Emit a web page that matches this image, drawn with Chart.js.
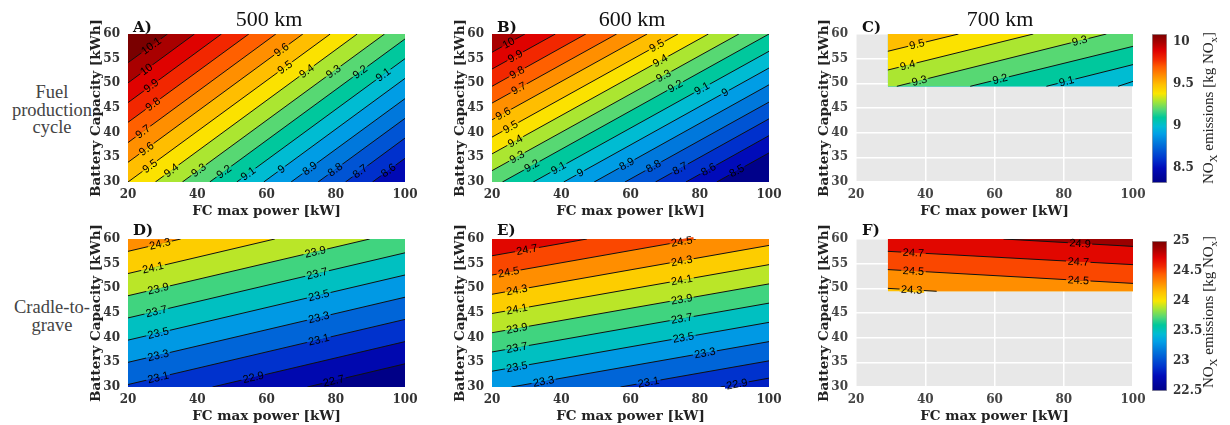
<!DOCTYPE html>
<html>
<head>
<meta charset="utf-8">
<script src="https://cdn.jsdelivr.net/npm/chart.js@4.4.1/dist/chart.umd.min.js"></script>
<style>
  body { margin: 0; background: #fff; }
  #fig { position: relative; width: 1230px; height: 425px; overflow: hidden; }
  canvas { position: absolute; }
  .ttl { position: absolute; top: 8px; width: 200px; text-align: center; font: 22px/22px "Liberation Serif", serif; color: #111; }
  .let { position: absolute; font: bold 15px/15px "DejaVu Serif", serif; color: #111; }
  .row { position: absolute; left: 0; width: 104px; text-align: center; font: 18.5px/17.5px "Liberation Serif", serif; color: #444; }
  .cbl { position: absolute; left: 1108px; width: 200px; height: 20px; text-align: center; font: 15px/20px "Liberation Serif", serif; color: #222; transform: rotate(-90deg); }
  .cbl sub { font-size: 11px; }
</style>
</head>
<body>
<div id="fig">
  <div class="row" style="top:84px">Fuel<br>production<br>cycle</div>
  <div class="row" style="top:299px">Cradle-to-<br>grave</div>

  <canvas id="cA" width="345" height="220" style="left:80px;top:0"></canvas>
  <canvas id="cB" width="345" height="220" style="left:444px;top:0"></canvas>
  <canvas id="cC" width="345" height="220" style="left:808px;top:0"></canvas>
  <canvas id="cD" width="345" height="220" style="left:80px;top:205px"></canvas>
  <canvas id="cE" width="345" height="220" style="left:444px;top:205px"></canvas>
  <canvas id="cF" width="345" height="220" style="left:808px;top:205px"></canvas>
  <canvas id="cbTop" width="72" height="220" style="left:1140px;top:0"></canvas>
  <canvas id="cbBottom" width="72" height="220" style="left:1140px;top:205px"></canvas>

  <div class="ttl" style="left:169px">500 km</div>
  <div class="ttl" style="left:532px">600 km</div>
  <div class="ttl" style="left:900px">700 km</div>
  <div class="let" style="left:133px;top:20px">A)</div>
  <div class="let" style="left:497px;top:20px">B)</div>
  <div class="let" style="left:862px;top:20px">C)</div>
  <div class="let" style="left:133px;top:223px">D)</div>
  <div class="let" style="left:497px;top:223px">E)</div>
  <div class="let" style="left:862px;top:223px">F)</div>
  <div class="cbl" style="top:98px">NO<sub>X</sub> emissions [kg NO<sub>x</sub>]</div>
  <div class="cbl" style="top:302px">NO<sub>X</sub> emissions [kg NO<sub>x</sub>]</div>
</div>

<script>
const xTicks = [20, 40, 60, 80, 100];
const yTicks = [30, 35, 40, 45, 50, 55, 60];

// colour scale ranges of the two rows
const topRange = [8.32, 10.1];
const topTicks = [8.5, 9, 9.5, 10];
const bottomRange = [22.5, 25];
const bottomTicks = [22.5, 23, 23.5, 24, 24.5, 25];

// area that was computed: [x from, x to, y from] (y always goes to 60)
const fullRegion = [20, 100, 30];
const longRegion = [29.2, 100, 49.4];

// contour lines: [x start, y start, x end, y end], one per level
const aLevels = [8.6, 8.7, 8.8, 8.9, 9, 9.1, 9.2, 9.3, 9.4, 9.5, 9.6, 9.7, 9.8, 9.9, 10, 10.1];
const aLines = [
  [90.6, 30, 100, 34.8], [82.8, 30, 100, 38.9], [74.9, 30, 100, 42.9], [67.1, 30, 100, 46.9],
  [59.2, 30, 100, 51.0], [51.4, 30, 100, 55.0], [43.6, 30, 100, 59.0], [35.7, 30, 94.1, 60],
  [27.9, 30, 86.2, 60], [20, 30, 78.4, 60], [20, 34.0, 70.5, 60], [20, 38.0, 62.7, 60],
  [20, 42.1, 54.9, 60], [20, 46.1, 47.0, 60], [20, 50.1, 39.2, 60], [20, 54.2, 31.4, 60]
];
const aLabelX = [[95.2], [87], [79.8], [72.5], [64.3], [54.7, 93.7], [47.7, 87], [40.4, 79.3],
  [32.5, 71.6], [26.3, 65.3], [25.3, 64.3], [24.3], [27.2], [26.7], [25.3], [26.7]];
const aBase = 8.48;

const bLevels = [8.5, 8.6, 8.7, 8.8, 8.9, 9, 9.1, 9.2, 9.3, 9.4, 9.5, 9.6, 9.7, 9.8, 9.9, 10];
const bLines = [
  [84.9, 30, 100, 35.9], [76.0, 30, 100, 39.4], [67.2, 30, 100, 42.8], [58.4, 30, 100, 46.2],
  [49.5, 30, 100, 49.7], [40.7, 30, 100, 53.1], [31.9, 30, 100, 56.5], [23.0, 30, 100, 60],
  [20, 32.3, 91.3, 60], [20, 35.7, 82.5, 60], [20, 39.1, 73.7, 60], [20, 42.6, 64.8, 60],
  [20, 46.0, 56.0, 60], [20, 49.4, 47.1, 60], [20, 52.9, 38.3, 60], [20, 56.3, 29.5, 60]
];
const bLabelX = [[90.7], [82.5], [74.3], [66.6], [58.9], [45.5, 87.3], [39.2, 80.6], [31.5, 72.9],
  [27.2, 69.5], [26.7, 68.6], [25.3, 67.6], [23.2], [27.7], [27.2], [26.7], [24.8]];
const bBase = 8.33;

const cLevels = [9, 9.1, 9.2, 9.3, 9.4, 9.5];
const cLines = [
  [95.7, 49.4, 100, 50.4], [75.0, 49.4, 100, 53.8], [53.0, 49.4, 100, 57.5],
  [31.8, 49.4, 92.3, 60], [29.2, 52.7, 71.2, 60], [29.2, 56.5, 49.6, 60]
];
const cLabelX = [[], [80.8], [61.6], [38.3, 84.6], [34.9], [37.6]];
const cBase = 8.97;

const dLevels = [22.7, 22.9, 23.1, 23.3, 23.5, 23.7, 23.9, 24.1, 24.3];
const dLines = [
  [71.8, 30, 100, 34.7], [44.4, 30, 100, 39.2], [20, 30.5, 100, 43.7], [20, 35.0, 100, 48.2],
  [20, 39.5, 100, 52.7], [20, 44.0, 100, 57.2], [20, 48.5, 89.8, 60], [20, 53.0, 62.4, 60],
  [20, 57.5, 35.2, 60]
];
const dLabelX = [[79.4], [56.2], [28.7, 75.1], [28.7, 75.1], [28.7, 75.1], [28.2, 74.6], [28.7, 74.1], [27.2], [29.2]];
const dBase = 22.49;

const eLevels = [22.9, 23.1, 23.3, 23.5, 23.7, 23.9, 24.1, 24.3, 24.5, 24.7];
const eLines = [
  [86.0, 30, 100, 31.8], [57.1, 30, 100, 35.3], [25.6, 30, 100, 39.2], [20, 33.2, 100, 43.1],
  [20, 37.1, 100, 47.0], [20, 41.0, 100, 50.9], [20, 44.9, 100, 54.8], [20, 48.8, 100, 58.7],
  [20, 52.7, 78.9, 60], [20, 56.6, 47.4, 60]
];
const eLabelX = [[90.7], [65.2], [34.9, 81.5], [27.2, 75.3], [27.2, 74.8], [27.2, 74.8], [27.2, 74.8],
  [27.2, 74.8], [24.8, 74.8], [30.1]];
const eBase = 22.83;

const fLevels = [24.3, 24.5, 24.7, 24.9];
const fLines = [
  [29.2, 50.0, 43.3, 49.4], [29.2, 53.8, 100, 51.0], [29.2, 57.5, 100, 54.8], [62.6, 60, 100, 58.5]
];
const fLabelX = [[36.1], [36.6, 84.2], [36.6, 84.2], [84.7]];
const fBase = 24.15;

// jet-like colormap as it appears in the figure
const cmapStops = [
  [0.00, 0, 0, 135], [0.10, 0, 10, 185], [0.16, 0, 50, 205], [0.27, 0, 120, 220],
  [0.33, 0, 160, 230], [0.38, 0, 188, 212], [0.44, 0, 200, 155], [0.49, 80, 215, 120],
  [0.55, 170, 230, 50], [0.60, 250, 230, 0], [0.66, 255, 192, 0], [0.72, 255, 142, 0],
  [0.78, 255, 92, 0], [0.83, 242, 40, 0], [0.89, 222, 0, 0], [0.94, 172, 0, 0], [1.00, 122, 0, 0]
];

function cmap(t) {
  t = Math.min(1, Math.max(0, t));
  let i = 1;
  while (i < cmapStops.length - 1 && cmapStops[i][0] < t) i++;
  const a = cmapStops[i - 1], b = cmapStops[i];
  const f = (t - a[0]) / (b[0] - a[0]);
  const c = k => Math.round(a[k] + (b[k] - a[k]) * f);
  return `rgb(${c(1)},${c(2)},${c(3)})`;
}

const tickFont = { family: 'DejaVu Serif', size: 12, weight: 'bold' };
const titleFont = { family: 'DejaVu Serif', size: 13.5, weight: 'bold' };

function panel(id, p) {
  const [lo, hi] = p.range;
  const [x0, x1, y0] = p.region;
  const col = v => cmap((v - lo) / (hi - lo));

  const datasets = [{
    data: [{ x: x0, y: y0 }, { x: x1, y: y0 }],
    backgroundColor: col(p.base), fill: 'end', order: 100
  }];
  p.lines.forEach((l, i) => {
    datasets.push({
      data: [{ x: x0, y: l[1] }, { x: l[0], y: l[1] }, { x: l[2], y: l[3] }, { x: x1, y: l[3] }],
      backgroundColor: col(p.levels[i]), fill: 'end', order: 90 - i
    });
    datasets.push({
      data: [{ x: l[0], y: l[1] }, { x: l[2], y: l[3] }],
      borderColor: '#111', borderWidth: 1, fill: false, order: 0
    });
  });
  datasets.forEach(d => {
    d.showLine = true;
    d.pointRadius = 0;
    if (d.fill) d.borderColor = 'transparent';
  });

  // inline contour labels, the line is broken under the text
  const labels = {
    id: 'clabels',
    afterDatasetsDraw(chart) {
      const { ctx, scales: { x, y } } = chart;
      ctx.save();
      ctx.font = '11px "Liberation Sans", Arial, sans-serif';
      ctx.textAlign = 'center';
      ctx.textBaseline = 'middle';
      p.lines.forEach((l, i) => {
        const up = col(p.levels[i]);
        const down = i === 0 ? col(p.base) : col(p.levels[i - 1]);
        const ang = Math.atan2(y.getPixelForValue(l[3]) - y.getPixelForValue(l[1]),
                               x.getPixelForValue(l[2]) - x.getPixelForValue(l[0]));
        p.labelX[i].forEach(xv => {
          const yv = l[1] + (l[3] - l[1]) * (xv - l[0]) / (l[2] - l[0]);
          const txt = String(p.levels[i]);
          const w = ctx.measureText(txt).width + 3;
          ctx.save();
          ctx.translate(x.getPixelForValue(xv), y.getPixelForValue(yv));
          ctx.rotate(ang);
          ctx.fillStyle = up;
          ctx.fillRect(-w / 2, -2.5, w, 2.5);
          ctx.fillStyle = down;
          ctx.fillRect(-w / 2, 0, w, 2.5);
          ctx.fillStyle = '#000';
          ctx.fillText(txt, 0, 0.5);
          ctx.restore();
        });
      });
      ctx.restore();
    }
  };

  const background = {
    id: 'greybg',
    beforeDraw(chart) {
      if (!p.grey) return;
      const { ctx, chartArea: a } = chart;
      ctx.save();
      ctx.fillStyle = '#e8e8e8';
      ctx.fillRect(a.left, a.top, a.width, a.height);
      ctx.restore();
    }
  };

  const grid = { display: !!p.grey, color: '#fff', lineWidth: 1.5, drawTicks: false };
  const tickColor = p.grey ? '#444' : '#333';

  new Chart(document.getElementById(id), {
    type: 'scatter',
    data: { datasets },
    options: {
      responsive: false,
      animation: false,
      events: [],
      layout: { padding: { top: 34, right: 20, left: 0, bottom: 0 } },
      plugins: { legend: { display: false }, tooltip: { enabled: false } },
      scales: {
        x: {
          type: 'linear', min: 20, max: 100,
          afterBuildTicks: s => { s.ticks = xTicks.map(v => ({ value: v })); },
          afterFit: s => { s.height = 38; },
          grid, border: { display: false },
          ticks: { font: tickFont, color: tickColor, padding: 6, maxRotation: 0, autoSkip: false },
          title: { display: true, text: 'FC max power [kW]', font: titleFont, color: '#222', padding: { top: 2, bottom: 0 } }
        },
        y: {
          type: 'linear', min: 30, max: 60,
          afterBuildTicks: s => { s.ticks = yTicks.map(v => ({ value: v })); },
          afterFit: s => { s.width = 48; },
          grid, border: { display: false },
          ticks: { font: tickFont, color: tickColor, padding: 8, autoSkip: false },
          title: { display: true, text: 'Battery Capacity [kWh]', font: titleFont, color: '#222', padding: { top: 8, bottom: 0 } }
        }
      }
    },
    plugins: [background, labels]
  });
}

function colorbar(id, range, ticks, padTop, padBottom) {
  const [lo, hi] = range;
  new Chart(document.getElementById(id), {
    type: 'bar',
    data: {
      labels: [''],
      datasets: [{
        data: [[lo, hi]],
        backgroundColor: ctx => {
          const a = ctx.chart.chartArea;
          if (!a) return null;
          const g = ctx.chart.ctx.createLinearGradient(0, a.bottom, 0, a.top);
          cmapStops.forEach(s => g.addColorStop(s[0], `rgb(${s[1]},${s[2]},${s[3]})`));
          return g;
        },
        borderColor: '#a0a0a0', borderWidth: 1, borderSkipped: false,
        barPercentage: 1, categoryPercentage: 1
      }]
    },
    options: {
      responsive: false,
      animation: false,
      events: [],
      layout: { padding: { left: 12, top: padTop, bottom: padBottom, right: 0 } },
      plugins: { legend: { display: false }, tooltip: { enabled: false } },
      scales: {
        x: { display: false },
        y: {
          position: 'right', min: lo, max: hi,
          afterBuildTicks: s => { s.ticks = ticks.map(v => ({ value: v })); },
          afterFit: s => { s.width = 45; },
          grid: { display: false, drawTicks: false }, border: { display: false },
          ticks: { font: tickFont, color: '#333', padding: 6, callback: v => String(v) }
        }
      }
    }
  });
}

panel('cA', { levels: aLevels, lines: aLines, labelX: aLabelX, base: aBase, range: topRange, region: fullRegion });
panel('cB', { levels: bLevels, lines: bLines, labelX: bLabelX, base: bBase, range: topRange, region: fullRegion });
panel('cC', { levels: cLevels, lines: cLines, labelX: cLabelX, base: cBase, range: topRange, region: longRegion, grey: true });
panel('cD', { levels: dLevels, lines: dLines, labelX: dLabelX, base: dBase, range: bottomRange, region: fullRegion });
panel('cE', { levels: eLevels, lines: eLines, labelX: eLabelX, base: eBase, range: bottomRange, region: fullRegion });
panel('cF', { levels: fLevels, lines: fLines, labelX: fLabelX, base: fBase, range: bottomRange, region: longRegion, grey: true });
colorbar('cbTop', topRange, topTicks, 34, 37);
colorbar('cbBottom', bottomRange, bottomTicks, 36, 34);
</script>
</body>
</html>
